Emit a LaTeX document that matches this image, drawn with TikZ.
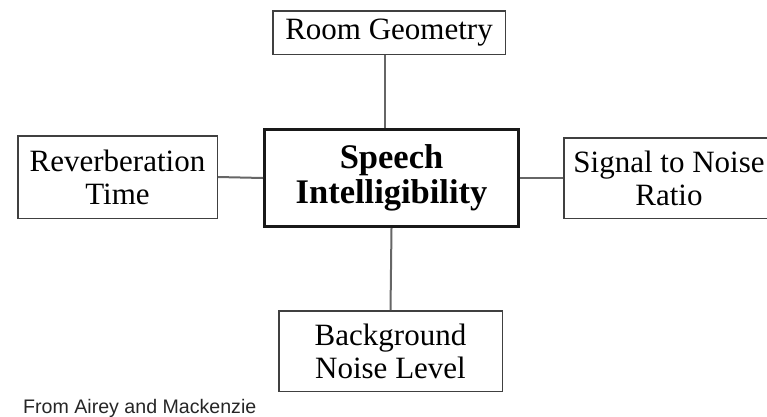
\documentclass[tikz,border=0pt]{standalone}
\usepackage{fontspec}
\setmainfont{Liberation Serif}
\setsansfont{Liberation Sans}
\begin{document}
\begin{tikzpicture}[x=1pt,y=-1pt,
  box/.style={draw=black!75, line width=1.5pt, fill=white, align=center, inner sep=0pt,
    font=\fontsize{31}{33}\selectfont},
  mainbox/.style={draw=black!90, line width=3pt, fill=white, align=center, inner sep=0pt,
    font=\bfseries\fontsize{34.5}{35}\selectfont},
  link/.style={draw=black!60, line width=2pt},
  note/.style={font=\sffamily\fontsize{19.6}{22}\selectfont, anchor=base west, inner sep=0pt, text=black!85}]
\useasboundingbox (0,0) rectangle (767,416);
\clip (0,0) rectangle (767,416);
\node[box, minimum width=232.5pt, minimum height=43.5pt] (room) at (389,32.5) {Room Geometry};
\node[box, minimum width=199.5pt, minimum height=82.5pt] (rev) at (117.5,177) {Reverberation\\Time};
\node[mainbox, minimum width=254pt, minimum height=97pt] (sib) at (391.5,178) {Speech\\Intelligibility};
\node[box, minimum width=210pt, minimum height=80.5pt] (snr) at (669,178) {Signal to Noise\\Ratio};
\node[box, minimum width=223.5pt, minimum height=80.5pt] (bg) at (390.5,351) {Background\\Noise Level};
\node[note] (src) at (23,413) {From Airey and Mackenzie};
\draw[link] ([xshift=-6.5pt]sib.north) -- ([xshift=-6.5pt]sib.north |- room.south);
\draw[link] (rev.east) -- (sib.west);
\draw[link] (sib.east) -- (snr.west);
\draw[link] (sib.south) -- (bg.north);
\end{tikzpicture}
\end{document}
